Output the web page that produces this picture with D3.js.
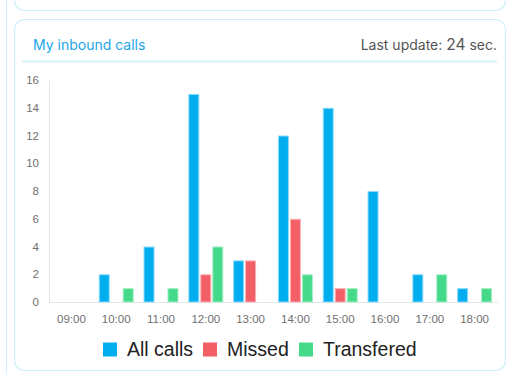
<!DOCTYPE html>
<html>
<head>
<meta charset="utf-8">
<script src="https://cdn.jsdelivr.net/npm/d3@7"></script>
<style>
  html, body { margin: 0; padding: 0; background: #fff; }
  svg { display: block; }
</style>
</head>
<body>
<svg id="chart" width="512" height="373"></svg>
<script>
const hours = ['09:00', '10:00', '11:00', '12:00', '13:00', '14:00', '15:00', '16:00', '17:00', '18:00'];
const allCalls = [0, 2, 4, 15, 3, 12, 14, 8, 2, 1];
const missed = [0, 0, 0, 2, 3, 6, 1, 0, 0, 0];
const transfered = [0, 1, 1, 4, 0, 2, 1, 0, 2, 1];
const seriesNames = ['All calls', 'Missed', 'Transfered'];
const yTicks = [0, 2, 4, 6, 8, 10, 12, 14, 16];

const colors = ['#00aeef', '#f25f67', '#45d98a'];
const strokes = ['#8fdcfa', '#f9b3b7', '#a6eec7'];
const cardBorder = '#cdeefc';

const svg = d3.select('#chart');

// outer container edge + cards
svg.append('line')
    .attr('x1', 6.5).attr('x2', 6.5).attr('y1', 0).attr('y2', 373)
    .attr('stroke', cardBorder).attr('stroke-width', 1);

svg.append('rect')
    .attr('x', 14.5).attr('y', -30).attr('width', 491).attr('height', 40.5)
    .attr('rx', 10).attr('fill', '#fff')
    .attr('stroke', cardBorder).attr('stroke-width', 1.2);

svg.append('rect')
    .attr('x', 14.5).attr('y', 19.5).attr('width', 491).attr('height', 351)
    .attr('rx', 10).attr('fill', '#fff')
    .attr('stroke', cardBorder).attr('stroke-width', 1.2);

// header
svg.append('text')
    .attr('x', 33).attr('y', 50)
    .attr('font-family', 'Inter, Roboto, sans-serif')
    .attr('font-size', 14)
    .attr('fill', '#1ba6ea')
    .text('My inbound calls');

const updateText = svg.append('text')
    .attr('x', 497).attr('y', 50)
    .attr('text-anchor', 'end')
    .attr('font-family', 'Inter, Roboto, sans-serif')
    .attr('font-size', 14)
    .attr('fill', '#555');
updateText.append('tspan').text('Last update:  ');
updateText.append('tspan').attr('font-size', 15.5).text('24');
updateText.append('tspan').text(' sec.');

svg.append('line')
    .attr('x1', 22).attr('x2', 497).attr('y1', 61.5).attr('y2', 61.5)
    .attr('stroke', '#d6f1fd').attr('stroke-width', 2);

// chart
const margin = { left: 49, right: 497, top: 80, bottom: 302 };

const x = d3.scaleBand()
    .domain(hours)
    .range([margin.left, margin.right])
    .paddingInner(0)
    .paddingOuter(0);

const x1 = d3.scaleBand()
    .domain(seriesNames)
    .range([0, x.bandwidth()])
    .paddingInner(0.08)
    .paddingOuter(0.41);

const y = d3.scaleLinear()
    .domain([0, 16])
    .range([margin.bottom, margin.top]);

const yAxis = svg.append('g')
    .attr('transform', `translate(${margin.left},0)`)
    .call(d3.axisLeft(y).tickValues(yTicks).tickSize(0).tickPadding(10));
yAxis.select('.domain').attr('stroke', '#e6e6e6');
yAxis.selectAll('text')
    .attr('font-family', 'Liberation Sans, Arial, sans-serif')
    .attr('font-size', 11.5)
    .attr('fill', '#707070');

const xAxis = svg.append('g')
    .attr('transform', `translate(0,${margin.bottom})`)
    .call(d3.axisBottom(x).tickSize(0).tickPadding(13));
xAxis.select('.domain').attr('stroke', '#e6e6e6');
xAxis.selectAll('text')
    .attr('font-family', 'Liberation Sans, Arial, sans-serif')
    .attr('font-size', 11.5)
    .attr('fill', '#707070');

const series = [allCalls, missed, transfered];
const groups = svg.append('g');
series.forEach((values, si) => {
    groups.selectAll(null)
        .data(values.map((v, i) => ({ hour: hours[i], value: v })).filter(d => d.value > 0))
        .join('rect')
        .attr('x', d => x(d.hour) + x1(seriesNames[si]) + 0.5)
        .attr('y', d => y(d.value) + 0.5)
        .attr('width', x1.bandwidth() - 1)
        .attr('height', d => y(0) - y(d.value) - 0.5)
        .attr('fill', colors[si])
        .attr('stroke', strokes[si])
        .attr('stroke-width', 1);
});

// legend
const legendItems = [
    { name: 'All calls', x: 103 },
    { name: 'Missed', x: 203 },
    { name: 'Transfered', x: 299 }
];
const legend = svg.append('g');
legendItems.forEach((item, i) => {
    legend.append('rect')
        .attr('x', item.x).attr('y', 342.5)
        .attr('width', 14).attr('height', 14)
        .attr('fill', colors[i]);
    legend.append('text')
        .attr('x', item.x + 24).attr('y', 356)
        .attr('font-family', 'Liberation Sans, Arial, sans-serif')
        .attr('font-size', 19.5)
        .attr('fill', '#222')
        .text(item.name);
});
</script>
</body>
</html>
